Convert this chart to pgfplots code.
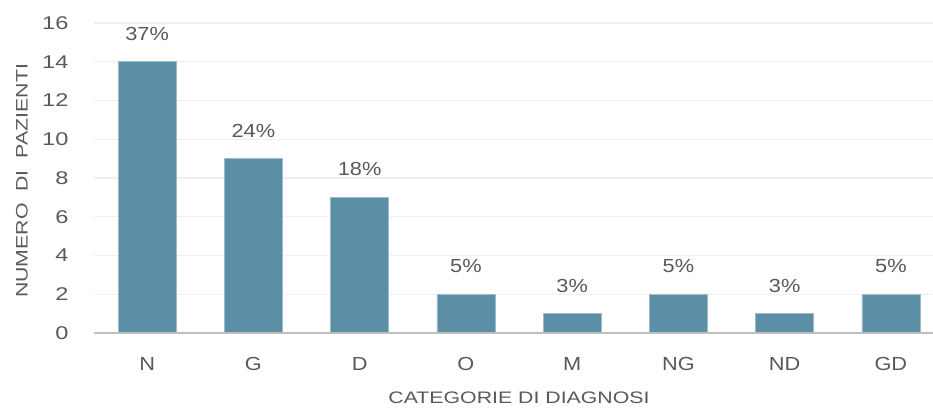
\documentclass[border=0pt]{standalone}
\usepackage{pgfplots}
\pgfplotsset{compat=1.18}
\usepackage{fontspec}
\setmainfont{Liberation Sans}[FakeStretch=1.28]
\newfontfamily\fb{Liberation Sans}[FakeStretch=1.15]
\definecolor{barc}{HTML}{5B8FA6}
\definecolor{txt}{HTML}{595959}
\definecolor{gridc}{HTML}{EFEFEF}
\definecolor{axl}{HTML}{BFBFBF}
\begin{document}
\begin{tikzpicture}
\useasboundingbox (-94bp,-77bp) rectangle (839bp,333bp);
\begin{axis}[
  at={(0,0)}, anchor=south west,
  scale only axis,
  width=850bp, height=310bp,
  xmin=-0.5, xmax=7.5,
  ymin=0, ymax=16,
  ytick={0,2,...,16},
  xtick={0,...,7},
  xticklabels={N,G,D,O,M,NG,ND,GD},
  axis line style={draw=none},
  axis x line*=bottom,
  axis y line*=left,
  major tick length=0pt,
  ymajorgrids,
  grid style={gridc, line width=1.5pt},
  /pgf/number format/assume math mode=true,
  xticklabel style={font=\fb\fontsize{19}{22}\selectfont, text=txt, anchor=center, yshift=-31bp},
  yticklabel style={font=\fontsize{18.5}{22}\selectfont, text=txt, anchor=east, xshift=-22bp},
  xlabel={CATEGORIE DI DIAGNOSI},
  ylabel={NUMERO\ \ DI\ \ PAZIENTI},
  every axis x label/.style={at={(axis description cs:0.5,0)}, anchor=center, yshift=-65bp, font=\fontsize{16.7}{19}\selectfont, text=txt},
  every axis y label/.style={at={(axis description cs:0,0.5)}, anchor=center, xshift=-72bp, yshift=-3bp, rotate=90, font=\fontsize{16.7}{19}\selectfont, text=txt},
  clip=false,
  ybar, bar width=58bp,
  nodes near coords,
  point meta=explicit symbolic,
  every node near coord/.append style={font=\fb\fontsize{19}{22}\selectfont, text=txt, anchor=center, yshift=28bp},
]
\addplot[fill=barc, draw=barc!60!white, line width=0.6pt] table[meta=p] {
x y p
0 14 37\%
1 9 24\%
2 7 18\%
3 2 5\%
4 1 3\%
5 2 5\%
6 1 3\%
7 2 5\%
};
\draw[axl, line width=1.8pt] (axis cs:-0.5,0) -- (axis cs:7.5,0);
\end{axis}
\end{tikzpicture}
\end{document}
